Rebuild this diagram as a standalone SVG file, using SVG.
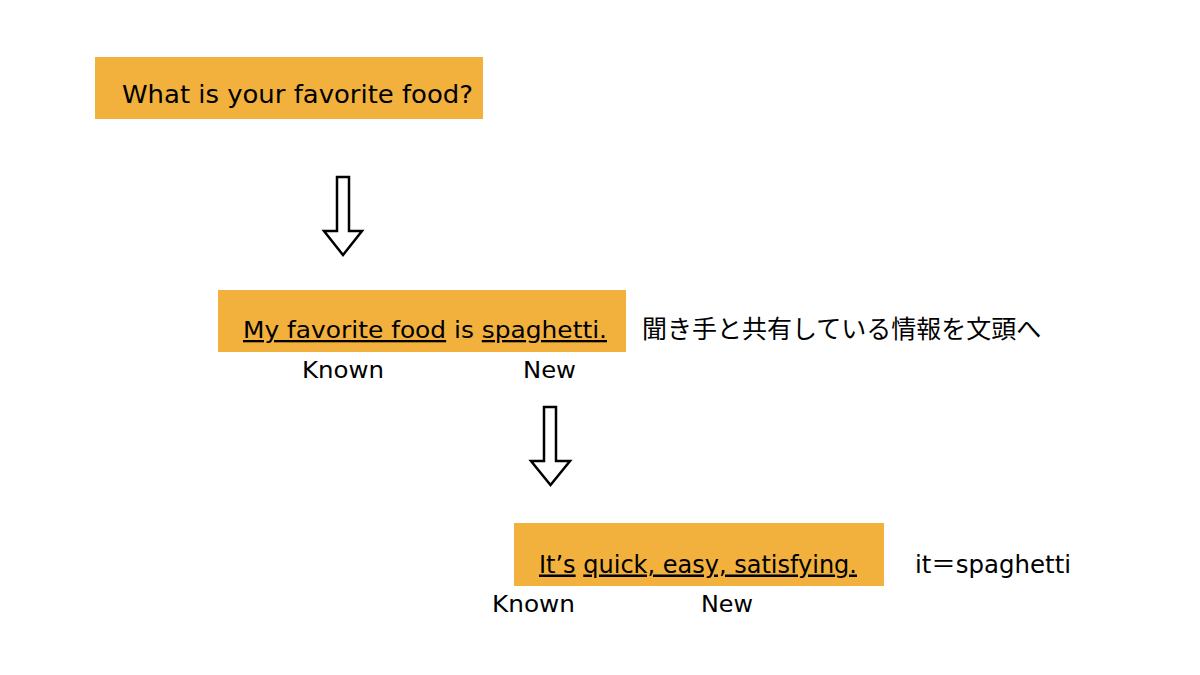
<svg xmlns="http://www.w3.org/2000/svg" width="1200" height="675" viewBox="0 0 1200 675">
<style>
.box{fill:#F2B13D;}
.t{font-family:"DejaVu Sans","Noto Sans CJK JP",sans-serif;font-size:23px;fill:#000;}
.big{font-size:25.5px;}
.mid{font-size:25px;}
.jp{font-family:"Noto Sans CJK JP",sans-serif;font-size:25px;fill:#000;}
.u{text-decoration:underline;}
.arr{fill:#fff;stroke:#000;stroke-width:2.5;stroke-linejoin:miter;}
</style>
<rect width="1200" height="675" fill="#fff"/>
<g id="node-question">
<rect class="box" x="95" y="57" width="388" height="62"/>
<text class="t big" x="122" y="103" textLength="351" lengthAdjust="spacingAndGlyphs">What is your favorite food?</text>
</g>
<g id="node-sentence1">
<rect class="box" x="218" y="290" width="408" height="62"/>
<text class="t" x="243" y="338" textLength="364" lengthAdjust="spacingAndGlyphs"><tspan class="u">My favorite food</tspan> is <tspan class="u">spaghetti.</tspan></text>
<text class="t" x="302" y="378" textLength="82" lengthAdjust="spacingAndGlyphs">Known</text>
<text class="t" x="523" y="378" textLength="53" lengthAdjust="spacingAndGlyphs">New</text>
<text class="jp" x="642" y="338">聞き手と共有している情報を文頭へ</text>
</g>
<g id="node-sentence2">
<rect class="box" x="514" y="523" width="370" height="63"/>
<text class="t mid" x="539" y="572.5" textLength="318" lengthAdjust="spacingAndGlyphs"><tspan class="u">It’s</tspan> <tspan class="u">quick, easy, satisfying.</tspan></text>
<text class="t" x="492" y="611.5" textLength="83" lengthAdjust="spacingAndGlyphs">Known</text>
<text class="t" x="701" y="611.5" textLength="52" lengthAdjust="spacingAndGlyphs">New</text>
<text class="t mid" x="915" y="572.5" textLength="156" lengthAdjust="spacingAndGlyphs">it＝spaghetti</text>
</g>
<g id="connectors">
<path class="arr" d="M337,177 L349,177 L349,231 L362,231 L343,255 L324,231 L337,231 Z"/>
<path class="arr" d="M544,407 L556,407 L556,461 L570,461 L550.5,485 L531,461 L544,461 Z"/>
</g>
</svg>
